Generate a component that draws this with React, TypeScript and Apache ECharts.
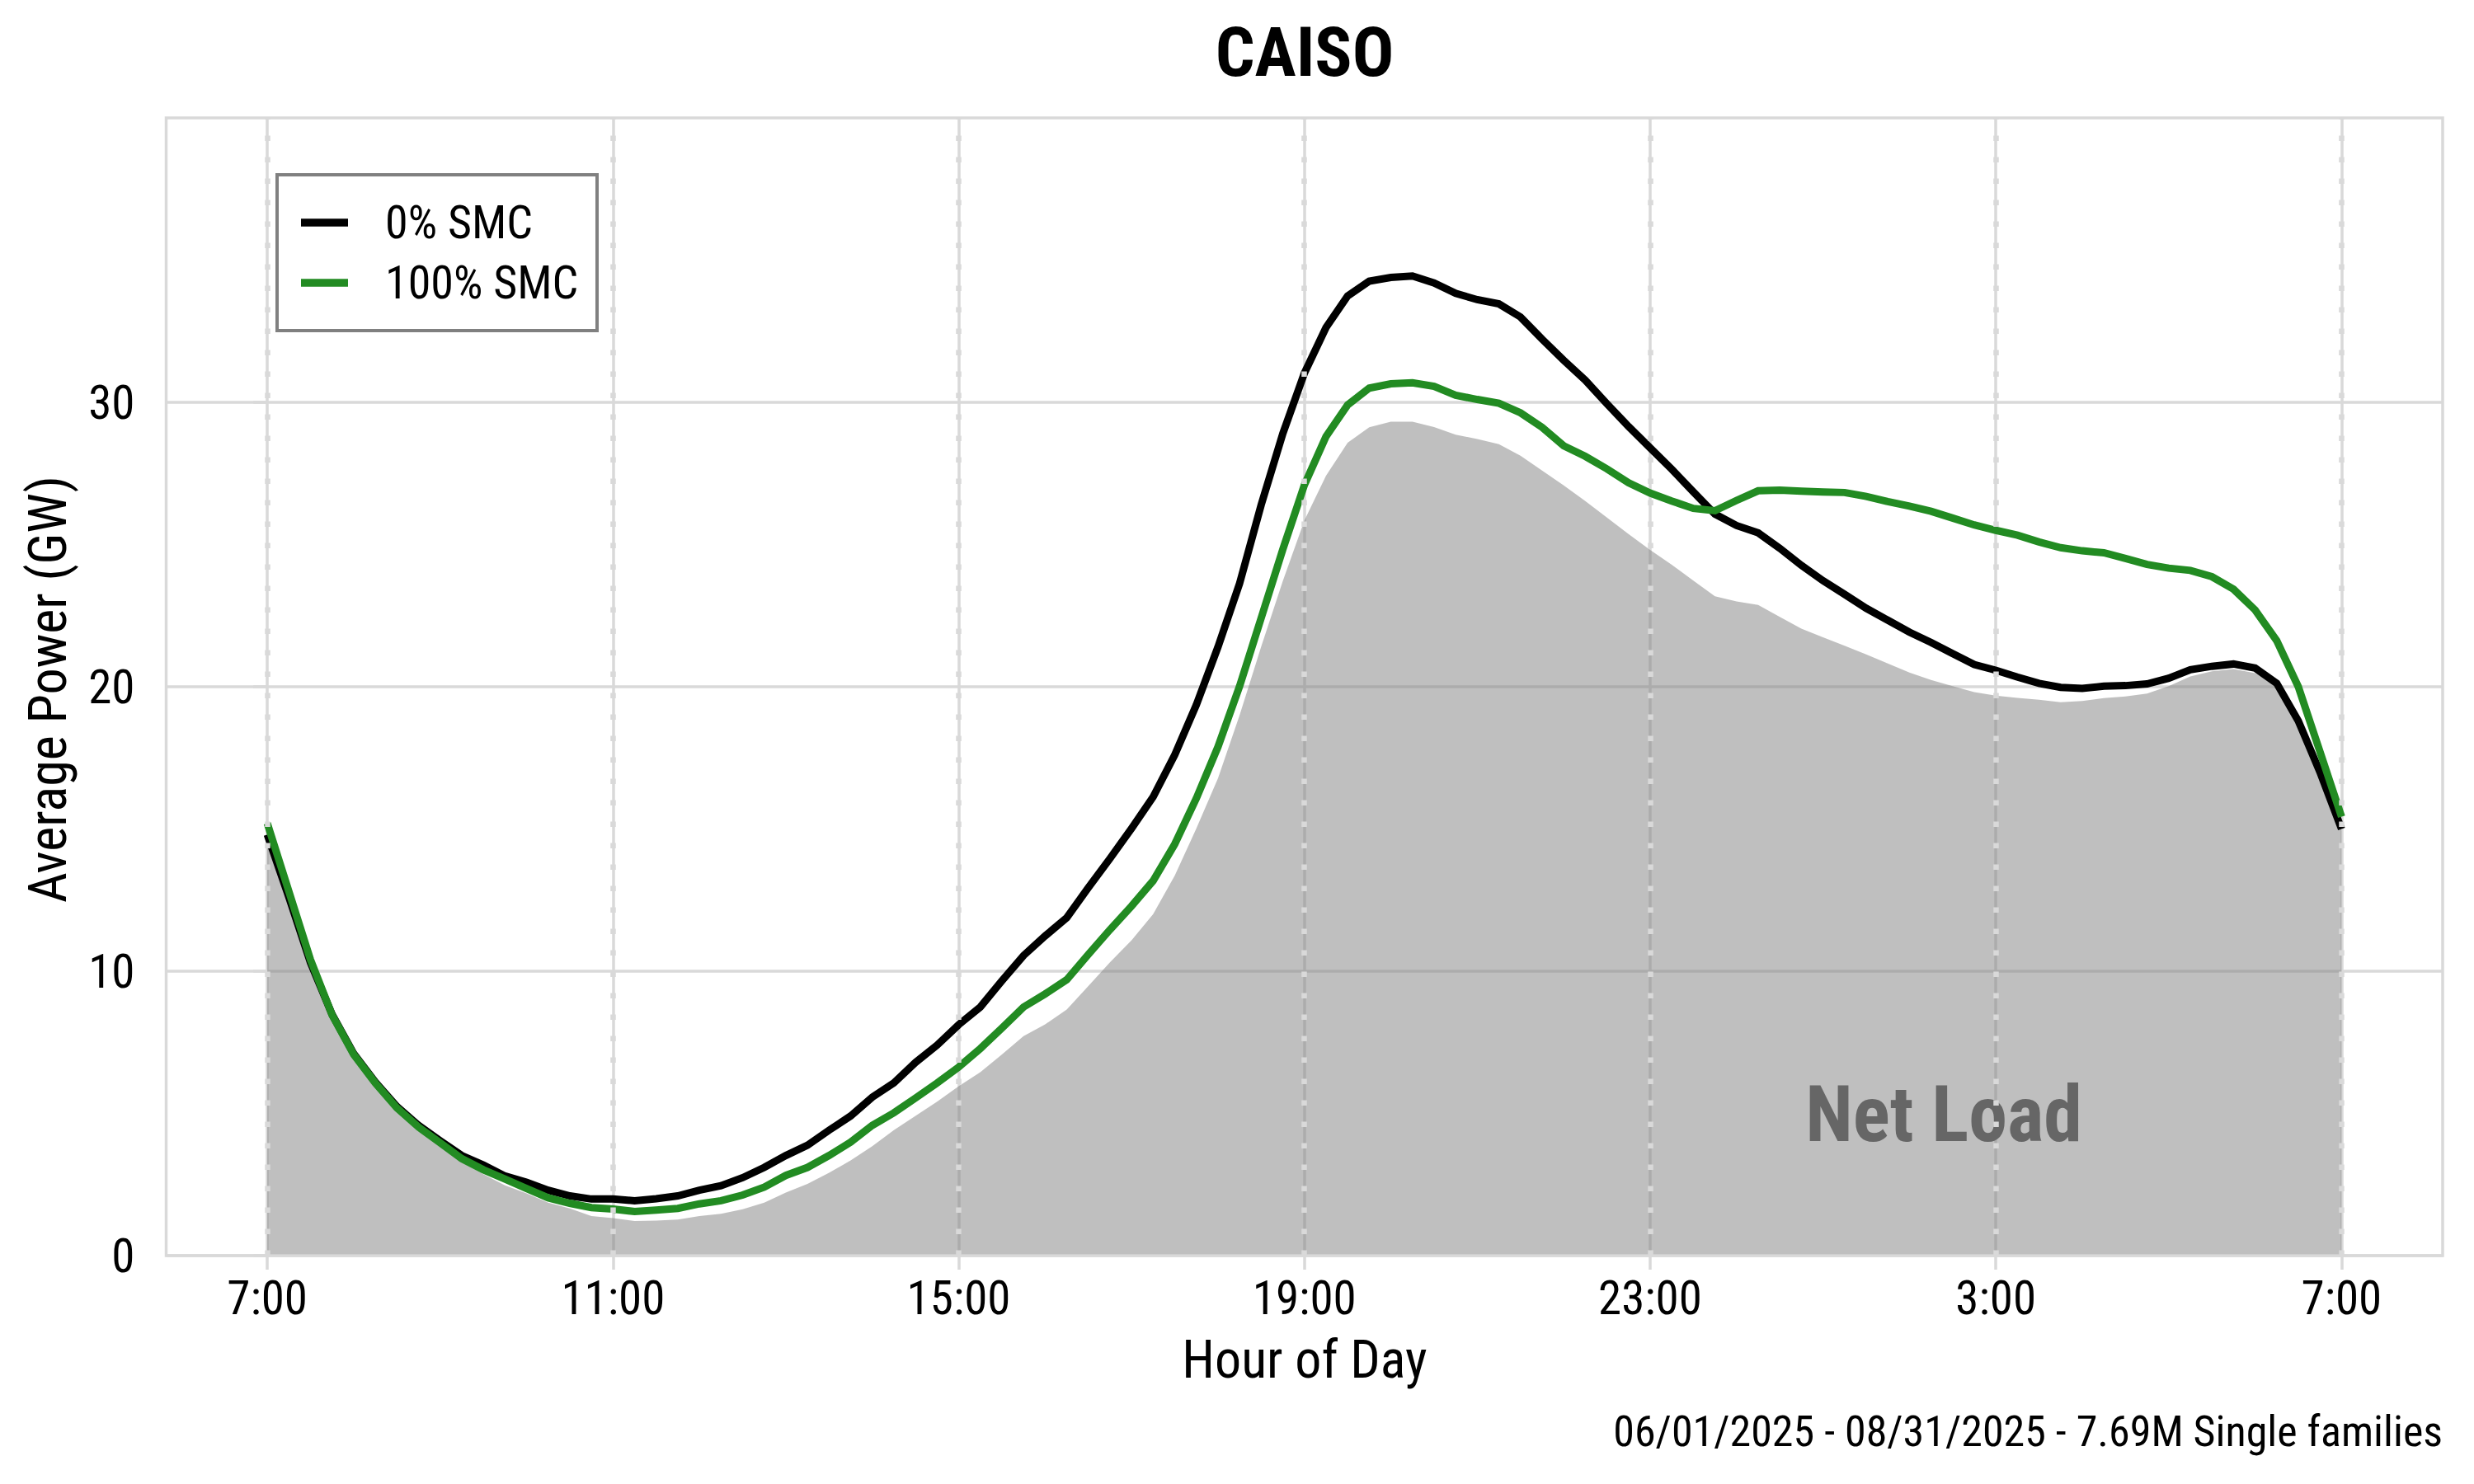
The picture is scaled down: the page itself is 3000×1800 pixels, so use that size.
import React, { useEffect, useRef } from "react";
import * as echarts from "echarts";

const FONT = "'Roboto Condensed', 'Roboto', sans-serif";

// time step between samples (hours), samples start at 7:00
const STEP_H = 0.25;

const xTickHours = [0, 4, 8, 12, 16, 20, 24];
const xTickLabels = ["7:00", "11:00", "15:00", "19:00", "23:00", "3:00", "7:00"];
const yTicks = [0, 10, 20, 30];

const netLoad = [
  14.9, 12.6, 10.2, 8.3, 6.95, 5.95, 5.05, 4.4, 3.85, 3.3,
  2.86, 2.47, 2.19, 1.86, 1.66, 1.39, 1.32, 1.22, 1.23, 1.27,
  1.39, 1.47, 1.63, 1.86, 2.22, 2.52, 2.91, 3.35, 3.85, 4.41,
  4.91, 5.41, 5.96, 6.45, 7.07, 7.72, 8.13, 8.65, 9.48, 10.31,
  11.09, 12.01, 13.36, 15.02, 16.78, 19.0, 21.41, 23.72, 25.85, 27.42,
  28.58, 29.12, 29.32, 29.32, 29.13, 28.86, 28.71, 28.53, 28.12, 27.6,
  27.08, 26.53, 25.95, 25.37, 24.81, 24.29, 23.73, 23.18, 23.0, 22.88,
  22.46, 22.04, 21.74, 21.44, 21.14, 20.82, 20.5, 20.24, 20.02, 19.81,
  19.69, 19.61, 19.54, 19.46, 19.5, 19.6, 19.66, 19.76, 20.02, 20.36,
  20.54, 20.62, 20.48, 20.1, 18.8, 17.0, 14.94,
];

const smc0 = [
  14.8, 12.6, 10.3, 8.48, 7.1, 6.1, 5.24, 4.58, 4.04, 3.52,
  3.19, 2.8, 2.58, 2.3, 2.1, 1.99, 1.99, 1.93, 2.0, 2.1,
  2.3, 2.46, 2.74, 3.1, 3.52, 3.88, 4.41, 4.91, 5.57, 6.07,
  6.79, 7.4, 8.12, 8.74, 9.66, 10.55, 11.24, 11.88, 12.94, 13.96,
  15.02, 16.13, 17.61, 19.37, 21.4, 23.63, 26.4, 28.9, 31.03, 32.63,
  33.74, 34.26, 34.39, 34.44, 34.2, 33.83, 33.61, 33.46, 33.0, 32.22,
  31.48, 30.78, 29.95, 29.15, 28.4, 27.65, 26.85, 26.07, 25.67, 25.41,
  24.87, 24.27, 23.73, 23.25, 22.76, 22.34, 21.92, 21.56, 21.17, 20.78,
  20.58, 20.34, 20.12, 19.98, 19.94, 20.02, 20.04, 20.1, 20.3, 20.6,
  20.72, 20.8, 20.66, 20.12, 18.8, 17.0, 15.0,
];

const smc100 = [
  15.2, 12.8, 10.4, 8.46, 7.07, 6.07, 5.19, 4.52, 3.97, 3.41,
  3.02, 2.69, 2.36, 2.03, 1.84, 1.69, 1.64, 1.55, 1.6, 1.66,
  1.82, 1.93, 2.13, 2.41, 2.82, 3.1, 3.52, 3.99, 4.58, 5.02,
  5.54, 6.07, 6.63, 7.28, 8.0, 8.74, 9.2, 9.7, 10.59, 11.46,
  12.29, 13.18, 14.47, 16.08, 17.89, 20.02, 22.42, 24.83, 27.1, 28.8,
  29.91, 30.5, 30.65, 30.69, 30.56, 30.25, 30.1, 29.97, 29.63, 29.12,
  28.47, 28.1, 27.66, 27.17, 26.81, 26.53, 26.27, 26.19, 26.55, 26.89,
  26.91, 26.88, 26.85, 26.83, 26.69, 26.51, 26.35, 26.17, 25.93, 25.69,
  25.5, 25.33, 25.09, 24.89, 24.78, 24.71, 24.51, 24.3, 24.17, 24.09,
  23.87, 23.43, 22.7, 21.62, 20.0, 17.72, 15.43,
];

const seriesNames = ["0% SMC", "100% SMC"];
const seriesColors = ["#000000", "#228B22"];

const GRID = { left: 201.5, top: 143, width: 2760.5, height: 1380 };
const GRID_COLOR = "#d9d9d9";

export default function App() {
  const ref = useRef<HTMLDivElement>(null);

  useEffect(() => {
    if (!ref.current) return;
    const chart = echarts.init(ref.current, null, { renderer: "svg", width: 3000, height: 1800 });
    const pts = (arr: number[]) => arr.map((v, i) => [i * STEP_H, v]);

    const legendTop = 212;
    const legendRows = [270, 343];

    chart.setOption({
      animation: false,
      backgroundColor: "#ffffff",
      textStyle: { fontFamily: FONT },
      grid: { ...GRID, show: false, containLabel: false },
      xAxis: {
        type: "value",
        min: -1.17,
        max: 25.17,
        axisLine: { show: false },
        axisTick: {
          show: true,
          length: 17,
          customValues: xTickHours,
          lineStyle: { color: GRID_COLOR, width: 3.5 },
        },
        axisLabel: {
          customValues: xTickHours,
          formatter: (v: number) => {
            const i = xTickHours.indexOf(v);
            return i >= 0 ? xTickLabels[i] : "";
          },
          fontSize: 57,
          color: "#000",
          margin: 23,
          fontFamily: FONT,
        },
        splitLine: { show: true, lineStyle: { color: GRID_COLOR, width: 3.5 } },
      },
      yAxis: {
        type: "value",
        min: 0,
        max: 40,
        interval: 10,
        axisLine: { show: false },
        axisTick: {
          show: true,
          length: 17,
          customValues: yTicks,
          lineStyle: { color: GRID_COLOR, width: 3.5 },
        },
        axisLabel: {
          customValues: yTicks,
          fontSize: 57,
          color: "#000",
          margin: 38,
          fontFamily: FONT,
        },
        splitLine: { show: true, lineStyle: { color: GRID_COLOR, width: 3.5 } },
      },
      series: [
        {
          name: "Net Load",
          type: "line",
          data: pts(netLoad),
          showSymbol: false,
          symbol: "none",
          z: 2,
          lineStyle: { width: 0, color: "rgba(127,127,127,0.5)" },
          areaStyle: { color: "rgba(127,127,127,0.5)", opacity: 1 },
          silent: true,
        },
        {
          name: seriesNames[0],
          type: "line",
          data: pts(smc0),
          showSymbol: false,
          symbol: "none",
          z: 4,
          lineStyle: { width: 9, color: seriesColors[0], cap: "butt", join: "miter" },
          itemStyle: { color: seriesColors[0] },
          silent: true,
        },
        {
          name: seriesNames[1],
          type: "line",
          data: pts(smc100),
          showSymbol: false,
          symbol: "none",
          z: 5,
          lineStyle: { width: 9, color: seriesColors[1], cap: "butt", join: "miter" },
          itemStyle: { color: seriesColors[1] },
          silent: true,
          markLine: {
            silent: true,
            symbol: ["none", "none"],
            label: { show: false },
            animation: false,
            z: 6,
            lineStyle: { color: GRID_COLOR, width: 6.5, type: [6.5, 19.5], opacity: 1 },
            emphasis: { disabled: true },
            data: xTickHours.map((h) => ({ xAxis: h })),
          },
        },
      ],
      graphic: [
        {
          type: "text",
          z: 3,
          x: 2357,
          y: 1352,
          style: {
            text: "Net Load",
            fontFamily: FONT,
            fontWeight: "bold",
            fontSize: 94,
            fill: "#666666",
            textAlign: "center",
            textVerticalAlign: "middle",
          },
        },
        {
          type: "rect",
          z: 10,
          shape: { x: GRID.left, y: GRID.top, width: GRID.width, height: GRID.height },
          style: { fill: "none", stroke: GRID_COLOR, lineWidth: 3.5 },
          silent: true,
        },
        {
          type: "text",
          z: 10,
          x: 1582,
          y: 63,
          style: {
            text: "CAISO",
            fontFamily: FONT,
            fontWeight: "bold",
            fontSize: 84,
            fill: "#000",
            textAlign: "center",
            textVerticalAlign: "middle",
          },
        },
        {
          type: "text",
          z: 10,
          x: 1582,
          y: 1649,
          style: {
            text: "Hour of Day",
            fontFamily: FONT,
            fontSize: 64,
            fill: "#000",
            textAlign: "center",
            textVerticalAlign: "middle",
          },
        },
        {
          type: "text",
          z: 10,
          x: 58,
          y: 836,
          rotation: Math.PI / 2,
          style: {
            text: "Average Power (GW)",
            fontFamily: FONT,
            fontSize: 64,
            fill: "#000",
            textAlign: "center",
            textVerticalAlign: "middle",
          },
        },
        {
          type: "text",
          z: 10,
          x: 2962,
          y: 1736,
          style: {
            text: "06/01/2025 - 08/31/2025 - 7.69M Single families",
            fontFamily: FONT,
            fontSize: 52,
            fill: "#000",
            textAlign: "right",
            textVerticalAlign: "middle",
          },
        },
        {
          type: "rect",
          z: 10,
          shape: { x: 336, y: legendTop, width: 388, height: 189 },
          style: { fill: "#ffffff", stroke: "#808080", lineWidth: 4 },
          silent: true,
        },
        ...seriesNames.flatMap((name, i) => [
          {
            type: "line",
            z: 11,
            shape: { x1: 365, y1: legendRows[i], x2: 422, y2: legendRows[i] },
            style: { stroke: seriesColors[i], lineWidth: 9.5 },
            silent: true,
          },
          {
            type: "text",
            z: 11,
            x: 467,
            y: legendRows[i],
            style: {
              text: name,
              fontFamily: FONT,
              fontSize: 56,
              fill: "#000",
              textAlign: "left",
              textVerticalAlign: "middle",
            },
          },
        ]),
      ],
    });

    return () => chart.dispose();
  }, []);

  return (
    <div
      ref={ref}
      style={{ position: "absolute", left: 0, top: 0, width: 3000, height: 1800, background: "#fff" }}
    />
  );
}
